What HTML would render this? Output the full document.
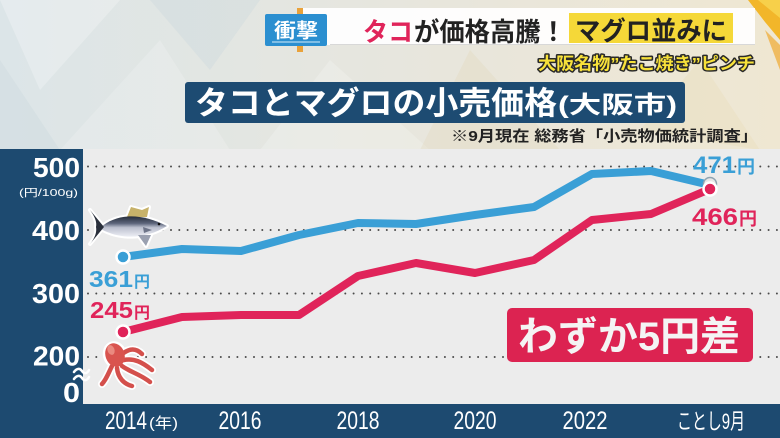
<!DOCTYPE html>
<html>
<head>
<meta charset="utf-8">
<style>
  html,body{margin:0;padding:0;background:#e6e6e2;}
  body{width:780px;height:438px;overflow:hidden;}
  svg{display:block;}
  text{font-family:"Liberation Sans","Noto Sans CJK JP",sans-serif;}
</style>
</head>
<body>
<svg width="780" height="438" viewBox="0 0 780 438" xmlns="http://www.w3.org/2000/svg">
  <defs>
    <linearGradient id="bg" x1="0" y1="0" x2="1" y2="0">
      <stop offset="0" stop-color="#dce5e8"/>
      <stop offset="0.45" stop-color="#e6e6df"/>
      <stop offset="1" stop-color="#efe7d2"/>
    </linearGradient>
    <linearGradient id="fishbody" x1="0" y1="0" x2="0" y2="1">
      <stop offset="0" stop-color="#262d3a"/>
      <stop offset="0.35" stop-color="#5d667c"/>
      <stop offset="0.55" stop-color="#bcc0cf"/>
      <stop offset="1" stop-color="#eceef4"/>
    </linearGradient>
  </defs>

  <!-- top background -->
  <rect x="0" y="0" width="780" height="150" fill="url(#bg)"/>
  <polygon points="0,0 120,0 40,90" fill="#ffffff" opacity="0.25"/>
  <polygon points="60,150 160,40 230,150" fill="#ffffff" opacity="0.18"/>
  <polygon points="150,0 260,0 210,70" fill="#c9d6dc" opacity="0.35"/>
  <polygon points="330,60 430,150 260,150" fill="#ffffff" opacity="0.2"/>
  <polygon points="470,50 560,150 420,150" fill="#e2d8bd" opacity="0.35"/>
  <polygon points="640,130 700,60 760,150" fill="#e8dcb8" opacity="0.35"/>
  <polygon points="0,60 60,150 0,150" fill="#cfdbe0" opacity="0.5"/>
  <!-- top right burst -->
  <polygon points="748,0 780,0 780,40 765,22" fill="#f2b62a"/>
  <polygon points="758,0 780,0 780,18" fill="#f7d04a"/>
  <polygon points="765,30 780,45 780,70" fill="#f0a930" opacity="0.7"/>

  <!-- header bar -->
  <rect x="300" y="8" width="455" height="37" fill="#ffffff" opacity="0.92"/>
  <line x1="330" y1="44.5" x2="755" y2="44.5" stroke="#d8d8d8" stroke-width="1"/>
  <rect x="297" y="8" width="6" height="44" fill="#e9a23a"/>
  <rect x="265" y="14" width="62" height="32" rx="2" fill="#2b8fd0"/>
  <line x1="272" y1="42" x2="320" y2="42" stroke="#d6ecfa" stroke-width="1"/>
  <text x="296" y="37.5" font-size="20" font-weight="bold" fill="#ffffff" text-anchor="middle" textLength="44" lengthAdjust="spacingAndGlyphs">衝撃</text>
  <text x="363" y="41" font-size="26" font-weight="bold" fill="#e0245a" textLength="50" lengthAdjust="spacingAndGlyphs">タコ</text>
  <text x="414" y="41" font-size="26" font-weight="bold" fill="#222222" textLength="152" lengthAdjust="spacingAndGlyphs">が価格高騰！</text>
  <rect x="569" y="13" width="164" height="30" fill="#f5d838"/>
  <text x="575" y="40" font-size="26" font-weight="bold" fill="#222222" textLength="152" lengthAdjust="spacingAndGlyphs">マグロ並みに</text>

  <!-- subtitle -->
  <text x="538" y="69.5" font-size="17" font-weight="bold" fill="#f8e23a" stroke="#2a2a2a" stroke-width="3" paint-order="stroke" stroke-linejoin="round" textLength="217" lengthAdjust="spacingAndGlyphs">大阪名物”たこ焼き”ピンチ</text>

  <!-- title box -->
  <rect x="185" y="82" width="500" height="41" rx="3" fill="#1d4b72"/>
  <text x="195" y="114" font-size="32" font-weight="bold" fill="#ffffff" textLength="362" lengthAdjust="spacingAndGlyphs">タコとマグロの小売価格</text>
  <text x="558" y="113" font-size="24" font-weight="bold" fill="#ffffff" textLength="119" lengthAdjust="spacingAndGlyphs">(大阪市)</text>
  <text x="451" y="141" font-size="15" font-weight="bold" fill="#222222" textLength="307" lengthAdjust="spacingAndGlyphs">※9月現在 総務省「小売物価統計調査」</text>

  <!-- chart panels -->
  <rect x="0" y="149" width="83" height="289" fill="#1d4a70"/>
  <rect x="83" y="149" width="697" height="255" fill="#ececec"/>
  <rect x="83" y="404" width="697" height="34" fill="#1d4a70"/>

  <!-- grid dotted lines -->
  <g stroke="#4a4a4a" stroke-width="2" stroke-linecap="round" stroke-dasharray="0 8.3">
    <line x1="88" y1="166.5" x2="780" y2="166.5"/>
    <line x1="88" y1="230" x2="780" y2="230"/>
    <line x1="88" y1="293.5" x2="780" y2="293.5"/>
    <line x1="88" y1="357" x2="780" y2="357"/>
  </g>

  <!-- y axis labels -->
  <g fill="#ffffff" font-weight="bold" font-size="28" text-anchor="end">
    <text x="80" y="177" textLength="47" lengthAdjust="spacingAndGlyphs">500</text>
    <text x="80" y="240" textLength="48" lengthAdjust="spacingAndGlyphs">400</text>
    <text x="80" y="303" textLength="48" lengthAdjust="spacingAndGlyphs">300</text>
    <text x="80" y="365.5" textLength="47" lengthAdjust="spacingAndGlyphs">200</text>
    <text x="80" y="402" textLength="17" lengthAdjust="spacingAndGlyphs">0</text>
  </g>
  <text x="78" y="196" font-size="10.5" fill="#ffffff" text-anchor="end" textLength="59" lengthAdjust="spacingAndGlyphs">(円/100g)</text>
  <!-- break mark -->
  <g stroke="#ffffff" stroke-width="2.5" fill="none" stroke-linecap="round">
    <path d="M74,372 C77,368 80,368 82,371 C84,374 87,374 89,370"/>
    <path d="M74,379 C77,375 80,375 82,378 C84,381 87,381 89,377"/>
  </g>

  <!-- x axis labels -->
  <g fill="#ffffff" font-size="25">
    <text x="105" y="429" textLength="42" lengthAdjust="spacingAndGlyphs">2014</text>
    <text x="149" y="428" font-size="15" textLength="29" lengthAdjust="spacingAndGlyphs">(年)</text>
    <text x="240" y="429" text-anchor="middle" textLength="43" lengthAdjust="spacingAndGlyphs">2016</text>
    <text x="358" y="429" text-anchor="middle" textLength="43" lengthAdjust="spacingAndGlyphs">2018</text>
    <text x="475" y="429" text-anchor="middle" textLength="43" lengthAdjust="spacingAndGlyphs">2020</text>
    <text x="585" y="429" text-anchor="middle" textLength="45" lengthAdjust="spacingAndGlyphs">2022</text>
    <text x="677" y="429" font-size="22" textLength="68" lengthAdjust="spacingAndGlyphs">ことし9月</text>
  </g>

  <!-- tuna -->
  <g>
    <g stroke="#ffffff" stroke-width="4" stroke-linejoin="round" fill="#ffffff">
      <path d="M101,227 C116,214 140,212 167,226 C148,238 122,241 101,229 Z"/>
      <path d="M104,227 L90,210 C95,217 97,222 96,227 C97,232 95,238 90,244 Z"/>
      <path d="M127,217 L131,207 L142,210 L149,207 L147,217 Z"/>
      <path d="M138,235 L146,246 L151,235 Z"/>
    </g>
    <path d="M127,217 L131,207 L142,210 L149,207 L147,217 Z" fill="#c7b26a"/>
    <path d="M101,227 C116,214 140,212 167,226 C148,238 122,241 101,229 Z" fill="url(#fishbody)"/>
    <path d="M104,227 L90,210 C95,217 97,222 96,227 C97,232 95,238 90,244 Z" fill="#2a303c"/>
    <path d="M138,235 L146,246 L151,235 Z" fill="#9aa0b0"/>
    <path d="M143,227 L152,230 L144,233 Z" fill="#6d7488"/>
    <circle cx="159" cy="224" r="1.3" fill="#111"/>
  </g>

  <!-- octopus -->
  <g stroke-linecap="round" fill="none">
    <g stroke="#ffffff" stroke-width="8">
      <path d="M112,366 C108,374 106,380 102,384"/>
      <path d="M117,368 C118,378 124,384 132,386"/>
      <path d="M122,366 C130,372 140,374 150,382"/>
      <path d="M124,360 C134,358 142,362 152,370"/>
      <path d="M122,354 C130,348 136,348 142,354"/>
    </g>
    <ellipse cx="115" cy="355" rx="12" ry="14" fill="#ffffff" transform="rotate(-20 115 355)"/>
    <g stroke="#d4504c" stroke-width="4.5">
      <path d="M112,366 C108,374 106,380 102,384"/>
      <path d="M117,368 C118,378 124,384 132,386"/>
      <path d="M122,366 C130,372 140,374 150,382"/>
      <path d="M124,360 C134,358 142,362 152,370"/>
      <path d="M122,354 C130,348 136,348 142,354"/>
    </g>
    <ellipse cx="115" cy="355" rx="9.5" ry="12" fill="#d9544f" transform="rotate(-20 115 355)"/>
    <ellipse cx="111" cy="350" rx="3.5" ry="5" fill="#ea8a80" transform="rotate(-20 111 350)"/>
  </g>

  <!-- series lines -->
  <polyline points="123,257 182,249 241,251 299,235 358,223 416,224 475,215 534,207 592,174 651,171 710,185" fill="none" stroke="#3a9fd6" stroke-width="8" stroke-linejoin="round"/>
  <polyline points="123,332 182,317 241,315 299,315 358,276 416,263 475,273 534,260 592,220 651,214 710,189" fill="none" stroke="#e0245a" stroke-width="8" stroke-linejoin="round"/>

  <!-- markers -->
  <circle cx="123" cy="257" r="6.5" fill="#3a9fd6" stroke="#ffffff" stroke-width="2.5"/>
  <circle cx="123" cy="332" r="6.5" fill="#e0245a" stroke="#ffffff" stroke-width="2.5"/>
  <circle cx="710" cy="184" r="6.5" fill="#e8e8e8" stroke="#8fa3b0" stroke-width="1.5"/>
  <circle cx="710" cy="189" r="6.5" fill="#e0245a" stroke="#ffffff" stroke-width="2.5"/>

  <!-- value labels -->
  <g font-weight="bold">
    <text x="89" y="287" font-size="23" fill="#3a9fd6" textLength="44" lengthAdjust="spacingAndGlyphs">361</text>
    <text x="134" y="287" font-size="16" fill="#3a9fd6">円</text>
    <text x="90" y="318" font-size="23" fill="#e0245a" textLength="43" lengthAdjust="spacingAndGlyphs">245</text>
    <text x="134" y="318" font-size="16" fill="#e0245a">円</text>
    <text x="693" y="173" font-size="24" fill="#3a9fd6" textLength="43" lengthAdjust="spacingAndGlyphs">471</text>
    <text x="737" y="173" font-size="18" fill="#3a9fd6">円</text>
    <text x="692" y="225" font-size="24" fill="#e0245a" textLength="46" lengthAdjust="spacingAndGlyphs">466</text>
    <text x="739" y="225" font-size="18" fill="#e0245a">円</text>
  </g>

  <!-- annotation box -->
  <rect x="507" y="308" width="246" height="54" rx="5" fill="#dc2351"/>
  <text x="518" y="350" font-size="40" font-weight="bold" fill="#f4f4f4" textLength="222" lengthAdjust="spacingAndGlyphs">わずか5円差</text>
</svg>
</body>
</html>
